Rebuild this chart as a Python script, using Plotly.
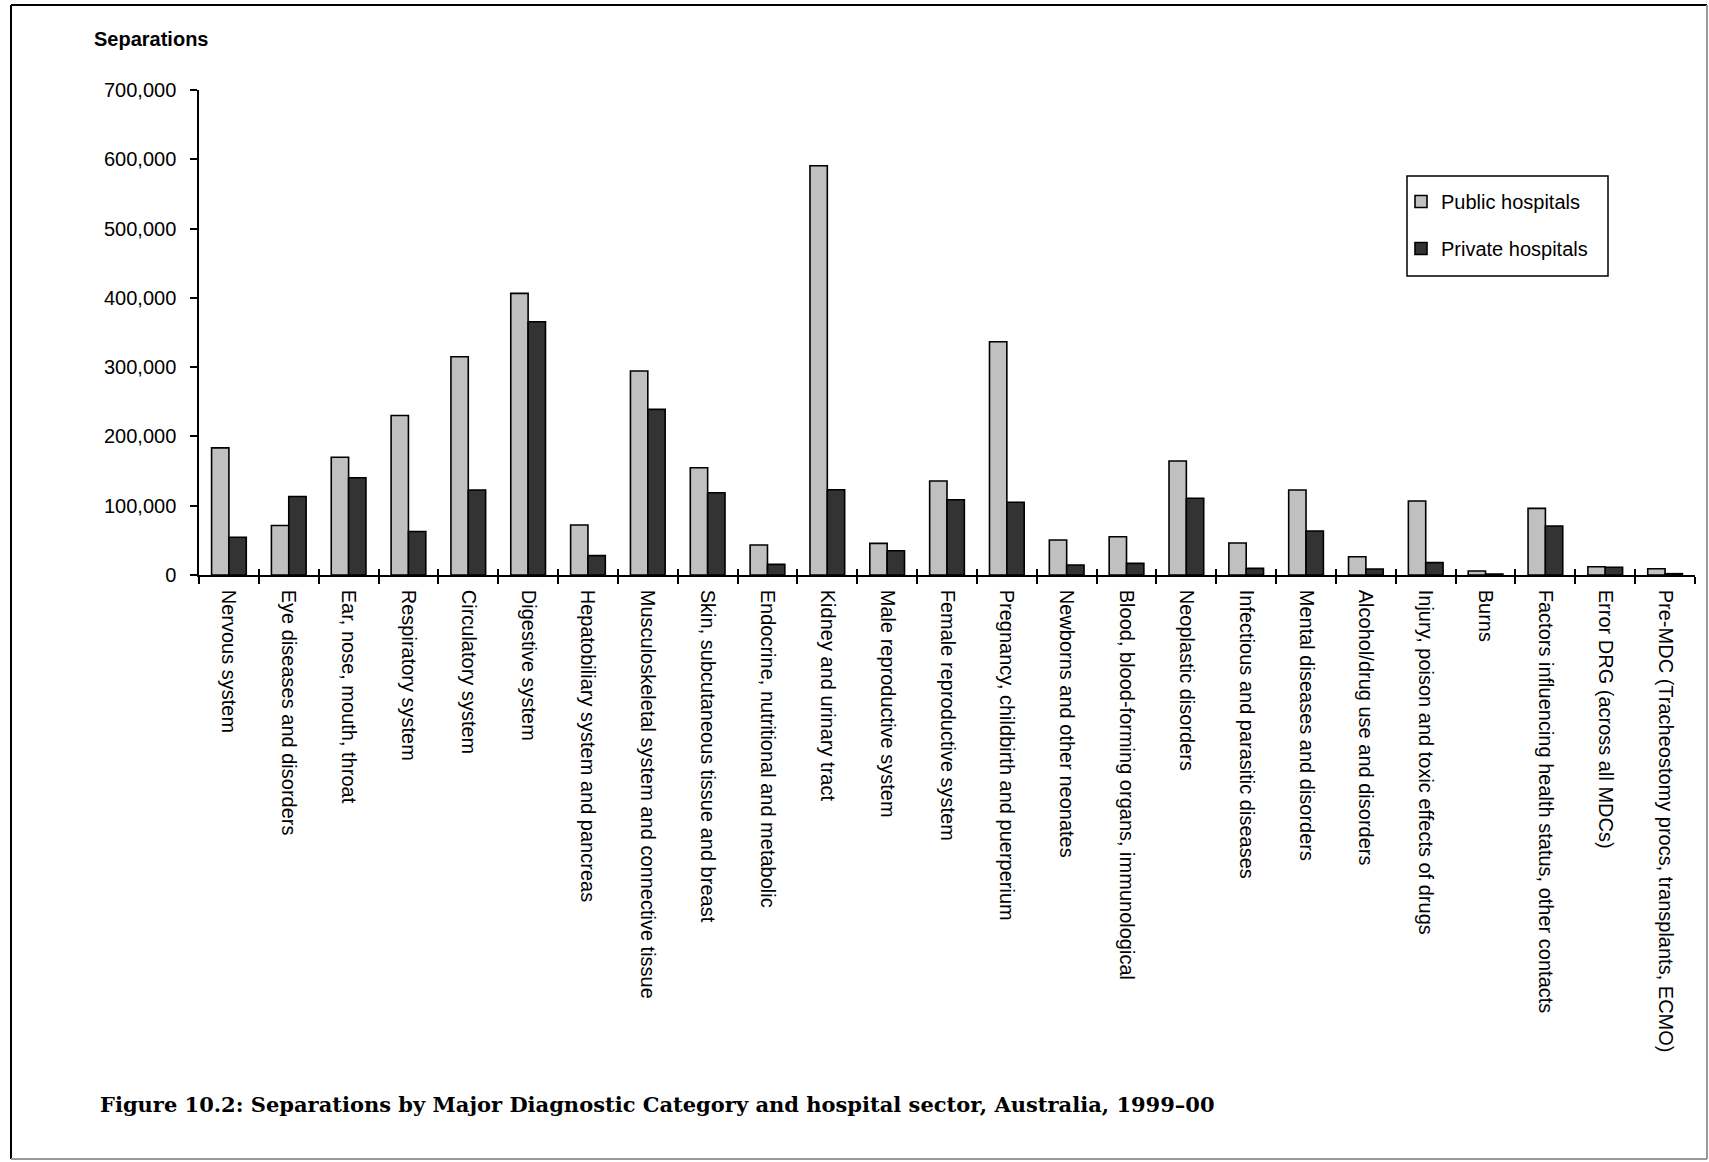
import plotly.graph_objects as go

categories = [
    "Nervous system",
    "Eye diseases and disorders",
    "Ear, nose, mouth, throat",
    "Respiratory system",
    "Circulatory system",
    "Digestive system",
    "Hepatobiliary system and pancreas",
    "Musculoskeletal system and connective tissue",
    "Skin, subcutaneous tissue and breast",
    "Endocrine, nutritional and metabolic",
    "Kidney and urinary tract",
    "Male reproductive system",
    "Female reproductive system",
    "Pregnancy, childbirth and puerperium",
    "Newborns and other neonates",
    "Blood, blood-forming organs, immunological",
    "Neoplastic disorders",
    "Infectious and parasitic diseases",
    "Mental diseases and disorders",
    "Alcohol/drug use and disorders",
    "Injury, poison and toxic effects of drugs",
    "Burns",
    "Factors influencing health status, other contacts",
    "Error DRG (across all MDCs)",
    "Pre-MDC (Tracheostomy procs, transplants, ECMO)",
]

public = [183500, 71400, 170000, 230100, 315000, 406500, 72200, 294400, 154800,
          43300, 590600, 45700, 135600, 336700, 50500, 55300, 164500, 46200,
          122700, 26400, 106800, 5800, 96200, 12000, 9100]
private = [54500, 113300, 140300, 62800, 122700, 365500, 27900, 239100, 118800,
           15400, 123100, 35100, 108700, 104900, 14400, 16800, 110700, 9600,
           63500, 8700, 17800, 1400, 70700, 11100, 1900]

y_ticks = [0, 100000, 200000, 300000, 400000, 500000, 600000, 700000]
y_title = "Separations"
fig_title = "Figure 10.2: Separations by Major Diagnostic Category and hospital sector, Australia, 1999\u201300"

W, H = 1709, 1162
L, R, T, B = 199, 14, 90, 587
PW, PH = W - L - R, H - T - B
n = len(categories)


def px(xp):
    return (xp - L) / PW


def py(yp):
    return (H - B - yp) / PH


SANS = "Liberation Sans, Arial, sans-serif"

fig = go.Figure()
fig.add_trace(go.Bar(
    x=categories, y=public, name="Public hospitals",
    marker=dict(color="#C0C0C0", line=dict(color="black", width=1.6)),
    legendgroup="a",
))
fig.add_trace(go.Bar(
    x=categories, y=private, name="Private hospitals",
    marker=dict(color="#333333", line=dict(color="black", width=1.6)),
    legendgroup="b",
))
# invisible helper trace for the inside half of the crossing category ticks
fig.add_trace(go.Scatter(
    x=categories, y=[0] * n, xaxis="x2", mode="markers",
    marker=dict(opacity=0), hoverinfo="skip", showlegend=False,
))

fig.update_layout(
    width=W, height=H,
    margin=dict(l=L, r=R, t=T, b=B, autoexpand=False),
    paper_bgcolor="white", plot_bgcolor="white",
    barmode="group", bargap=0.42, bargroupgap=0,
    font=dict(family=SANS, size=20, color="black"),
    showlegend=True,
    legend=dict(
        x=px(1401), y=py(182), xanchor="left", yanchor="top",
        borderwidth=0, bgcolor="rgba(0,0,0,0)",
        font=dict(family=SANS, size=20, color="black"),
        traceorder="grouped", tracegroupgap=18,
    ),
    xaxis=dict(
        type="category", range=[-0.5, n - 0.5], tickson="boundaries",
        ticks="outside", ticklen=7,
        tickwidth=1.5, tickcolor="black", showline=True, linecolor="black",
        linewidth=1.5, tickangle=90, showgrid=False, zeroline=False,
        tickfont=dict(family=SANS, size=20, color="black"),
        ticklabelstandoff=9,
    ),
    xaxis2=dict(
        type="category", overlaying="x", range=[-0.5, n - 0.5],
        tickson="boundaries",
        ticks="inside", ticklen=6, tickwidth=1.5, tickcolor="black",
        showticklabels=False, showline=False, showgrid=False, zeroline=False,
        side="bottom", anchor="y",
    ),
    yaxis=dict(
        range=[0, 700000], tickvals=y_ticks, tickformat=",", ticks="outside",
        ticklen=7, tickwidth=1.5, tickcolor="black", showline=True,
        linecolor="black", linewidth=1.5, showgrid=False, zeroline=False,
        tickfont=dict(family=SANS, size=20, color="black"),
        ticklabelstandoff=10,
    ),
    annotations=[
        dict(text="<b>" + y_title + "</b>", x=px(92), y=py(39), xref="paper",
             yref="paper", xanchor="left", yanchor="middle", showarrow=False,
             font=dict(family=SANS, size=20, color="black")),
        dict(text="<b>" + fig_title + "</b>", x=px(98), y=py(1104), xref="paper",
             yref="paper", xanchor="left", yanchor="middle", showarrow=False,
             font=dict(family="DejaVu Serif, serif", size=21,
                       color="black")),
    ],
    shapes=[
        # legend frame
        dict(type="rect", xref="paper", yref="paper", x0=px(1407), x1=px(1608),
             y0=py(176), y1=py(276), line=dict(color="black", width=1.5),
             fillcolor="white", layer="below"),
        # page frame
        dict(type="line", xref="paper", yref="paper", x0=px(11), x1=px(1707),
             y0=py(5), y1=py(5), line=dict(color="black", width=2)),
        dict(type="line", xref="paper", yref="paper", x0=px(11), x1=px(11),
             y0=py(5), y1=py(1159), line=dict(color="black", width=2)),
        dict(type="line", xref="paper", yref="paper", x0=px(1707), x1=px(1707),
             y0=py(5), y1=py(1159), line=dict(color="#999999", width=2)),
        dict(type="line", xref="paper", yref="paper", x0=px(11), x1=px(1707),
             y0=py(1159), y1=py(1159), line=dict(color="#999999", width=2)),
    ],
)

fig.write_html("out.html", config={"displayModeBar": False},
               post_script="document.body.style.margin='0';")
